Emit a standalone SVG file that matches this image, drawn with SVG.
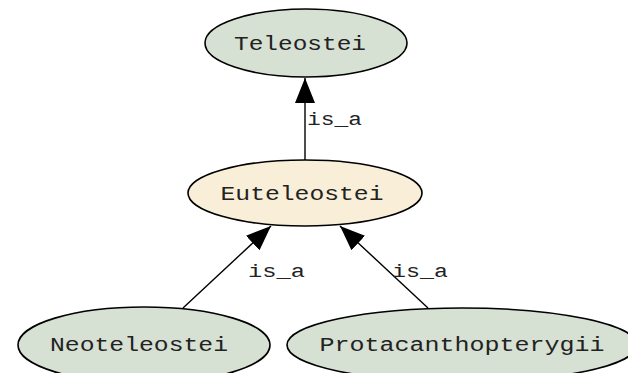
<svg xmlns="http://www.w3.org/2000/svg" width="628" height="373" viewBox="0 0 628 373">
<style>
.node ellipse{stroke:#000;stroke-width:1.6}
.green{fill:#d6e0d3}
.beige{fill:#f9efd9}
.lbl{font-family:"Liberation Mono","DejaVu Sans Mono",monospace;font-size:20px;fill:#222;text-anchor:middle}
.edge line{stroke:#000;stroke-width:1.4;marker-end:url(#arr)}
.elbl{font-family:"Liberation Mono","DejaVu Sans Mono",monospace;font-size:19px;fill:#222}
</style>
<defs>
<marker id="arr" markerUnits="userSpaceOnUse" markerWidth="26" markerHeight="22" refX="25" refY="10" orient="auto" viewBox="0 0 26 20">
<path d="M0,0 L25,10 L0,20 z" fill="#000"/>
</marker>
</defs>
<rect width="628" height="373" fill="#fff"/>
<g id="edges" class="edge">
<line x1="305" y1="160" x2="305" y2="78"/>
<line x1="183" y1="308" x2="271" y2="226"/>
<line x1="428" y1="308" x2="340" y2="226"/>
<text class="elbl" x="307" y="125" textLength="55" lengthAdjust="spacingAndGlyphs">is_a</text>
<text class="elbl" x="248" y="277" textLength="57" lengthAdjust="spacingAndGlyphs">is_a</text>
<text class="elbl" x="392" y="277" textLength="56" lengthAdjust="spacingAndGlyphs">is_a</text>
</g>
<g id="Teleostei" class="node">
<ellipse class="green" cx="306" cy="43" rx="101" ry="34"/>
<text class="lbl" x="300" y="50" textLength="132" lengthAdjust="spacingAndGlyphs">Teleostei</text>
</g>
<g id="Euteleostei" class="node">
<ellipse class="beige" cx="305" cy="193" rx="117" ry="33"/>
<text class="lbl" x="302" y="200" textLength="163" lengthAdjust="spacingAndGlyphs">Euteleostei</text>
</g>
<g id="Neoteleostei" class="node">
<ellipse class="green" cx="144" cy="345" rx="126" ry="38"/>
<text class="lbl" x="139" y="351" textLength="178" lengthAdjust="spacingAndGlyphs">Neoteleostei</text>
</g>
<g id="Protacanthopterygii" class="node">
<ellipse class="green" cx="462" cy="345" rx="175" ry="37"/>
<text class="lbl" x="462" y="351" textLength="285" lengthAdjust="spacingAndGlyphs">Protacanthopterygii</text>
</g>
</svg>
